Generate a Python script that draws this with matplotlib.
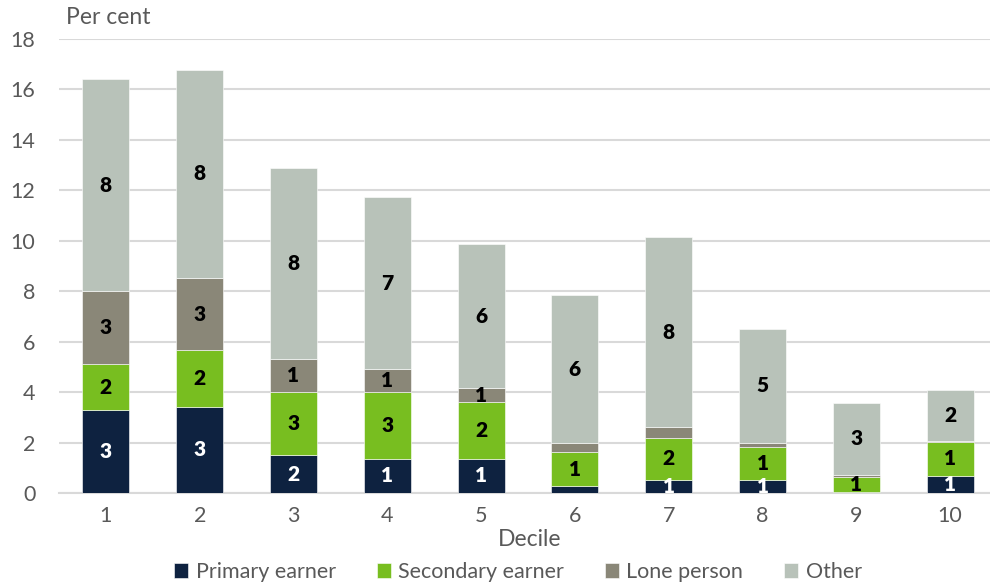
import numpy as np
import matplotlib.pyplot as plt

plt.rcParams['font.family'] = ['Lato', 'DejaVu Sans']

deciles = ['1', '2', '3', '4', '5', '6', '7', '8', '9', '10']
primary = [3.29, 3.41, 1.50, 1.35, 1.35, 0.28, 0.51, 0.51, 0.05, 0.69]
secondary = [1.82, 2.25, 2.50, 2.65, 2.25, 1.33, 1.69, 1.30, 0.58, 1.34]
lone = [2.89, 2.85, 1.31, 0.91, 0.56, 0.36, 0.40, 0.19, 0.10, 0.04]
other = [8.40, 8.28, 7.56, 6.81, 5.70, 5.87, 7.54, 4.52, 2.83, 2.01]

series = [
    ('Primary earner', primary, '#0e2240', 'white'),
    ('Secondary earner', secondary, '#78be20', 'black'),
    ('Lone person', lone, '#8a8778', 'black'),
    ('Other', other, '#b8c2b9', 'black'),
]

fig = plt.figure(figsize=(9.9, 5.86), dpi=100)
ax = fig.add_axes([59 / 990, 1 - 493 / 586, (997 - 59) / 990, (493 - 39) / 586])

x = np.arange(len(deciles))
bottom = np.zeros(len(deciles))
for name, vals, color, txt in series:
    vals = np.array(vals)
    ax.bar(x, vals, 0.5, bottom=bottom, color=color, label=name,
           edgecolor='white', linewidth=0.4, zorder=3)
    for xi, b, v in zip(x, bottom, vals):
        lab = int(v + 0.5)
        if lab >= 1:
            ax.text(xi, b + v / 2, str(lab), ha='center', va='center',
                    color=txt, fontsize=15, fontweight='heavy', zorder=4)
    bottom += vals

ax.set_xlim(-0.5, 9.5)
ax.set_ylim(0, 18)
ax.set_yticks(range(0, 19, 2))
ax.set_xticks(x)
ax.set_xticklabels(deciles)
ax.yaxis.grid(True, color='#d9d9d9', linewidth=1.5, zorder=0)
ax.set_axisbelow(True)
for s in ['top', 'right', 'left']:
    ax.spines[s].set_visible(False)
ax.spines['bottom'].set_color('#d9d9d9')
ax.spines['bottom'].set_linewidth(1.5)
ax.tick_params(axis='both', length=0, labelsize=15.5, colors='#595959')
ax.tick_params(axis='x', pad=9)
ax.tick_params(axis='y', pad=17)

fig.text(66 / 990, 1 - 18 / 586, 'Per cent', fontsize=16.5, color='#595959', va='center')
fig.text(530 / 990, 1 - 539 / 586, 'Decile', fontsize=16.5, color='#595959', ha='center', va='center')

fig.legend(loc='center', bbox_to_anchor=(518 / 990, 1 - 572 / 586), ncol=4, frameon=False,
           fontsize=15.5, labelcolor='#595959', handlelength=0.65, handleheight=0.75,
           handletextpad=0.35, columnspacing=1.9)

fig.savefig('out.png', dpi=100)
